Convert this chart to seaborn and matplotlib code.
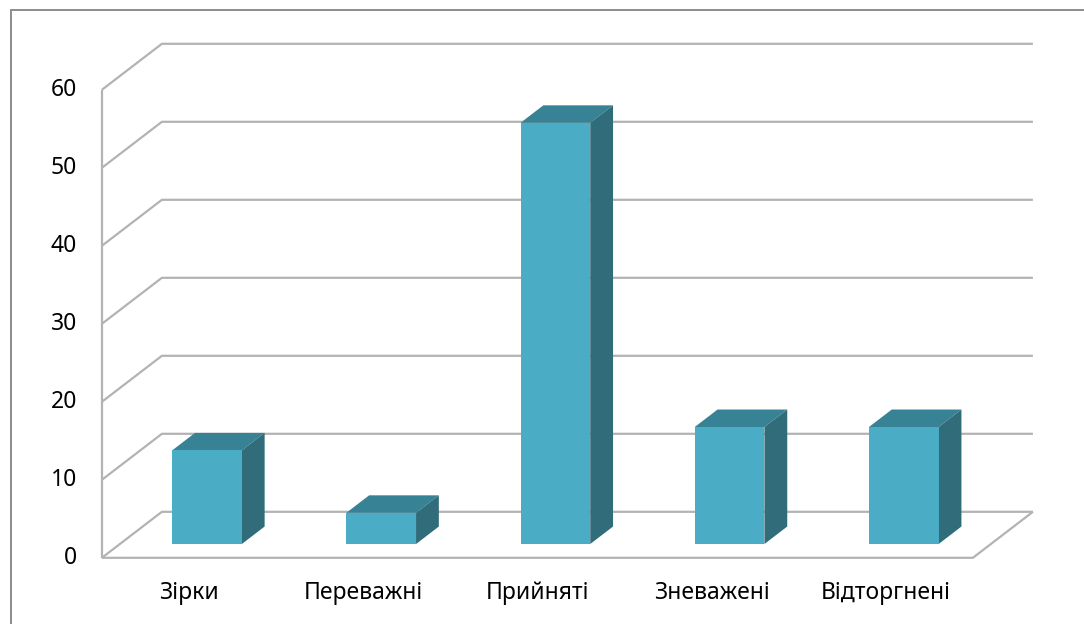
import matplotlib
matplotlib.use("Agg")
import matplotlib.pyplot as plt
from matplotlib.patches import Polygon
from matplotlib.lines import Line2D
import numpy as np
import pandas as pd
import seaborn as sns

# Sociometric status groups, share of pupils (%)
categories = ["Зірки", "Переважні", "Прийняті", "Зневажені", "Відторгнені"]
values = [12, 4, 54, 15, 15]
y_ticks = [0, 10, 20, 30, 40, 50, 60]

FRONT = "#4BACC6"
TOP = "#388296"
SIDE = "#306C79"
GRID = "#B3B3B3"
FRAME = "#8C8C8C"

sns.set_theme(style="white")
plt.rcParams["font.family"] = ["Noto Sans", "DejaVu Sans"]

W, H = 1084, 624
fig = plt.figure(figsize=(W / 100, H / 100), dpi=100)
ax = fig.add_axes([0, 0, 1, 1])

df = pd.DataFrame({"group": categories, "share": values})
sns.barplot(data=df, x="group", y="share", width=0.4, color=FRONT,
            saturation=1, ax=ax, zorder=3, linewidth=0)

# pixel scale of the bar plane
x0_px, slot_px = 207, 174.2
y0_px, unit_px = 544, 7.8
ax.set_xlim(-x0_px / slot_px, (W - x0_px) / slot_px)
ax.set_ylim(-(H - y0_px) / unit_px, y0_px / unit_px)
ax.axis("off")

# oblique depth projection: d = 0 front of floor, d = 1 back wall
DX = 60 / slot_px
DY = 46 / unit_px
BAR_D0, BAR_D1 = 0.30, 0.68
x_lo, x_hi = -0.5, len(categories) - 0.5


def proj(x, v, d):
    return x + (d - BAR_D0) * DX, v + (d - BAR_D0) * DY


def polyline(points, **kw):
    xs, ys = zip(*points)
    ax.plot(xs, ys, color=GRID, lw=1.6, solid_capstyle="butt", zorder=1, **kw)


# walls: gridlines wrap from left wall to back wall
for v in y_ticks:
    polyline([proj(x_lo, v, 0), proj(x_lo, v, 1), proj(x_hi, v, 1)])
# floor outline
polyline([proj(x_lo, 0, 0), proj(x_hi, 0, 0), proj(x_hi, 0, 1)])
# left wall front edge
polyline([proj(x_lo, 0, 0), proj(x_lo, y_ticks[-1], 0)])

# top and side faces of each bar
ddx = (BAR_D1 - BAR_D0) * DX
ddy = (BAR_D1 - BAR_D0) * DY
for p in ax.patches:
    bx, bw, bh = p.get_x(), p.get_width(), p.get_height()
    top = [(bx, bh), (bx + bw, bh), (bx + bw + ddx, bh + ddy), (bx + ddx, bh + ddy)]
    side = [(bx + bw, 0), (bx + bw, bh), (bx + bw + ddx, bh + ddy), (bx + bw + ddx, ddy)]
    ax.add_patch(Polygon(top, closed=True, facecolor=TOP, edgecolor="none", zorder=2.5))
    ax.add_patch(Polygon(side, closed=True, facecolor=SIDE, edgecolor="none", zorder=2.5))

# value axis labels on the front edge of the left wall
for v in y_ticks:
    x, y = proj(x_lo, v, 0)
    ax.text(x - 25 / slot_px, y, str(v), ha="right", va="center",
            fontsize=16.5, color="#000000")

# category labels under the floor
for i, name in enumerate(categories):
    x, _ = proj(i, 0, 0)
    ax.text(x, -6.3, name, ha="center", va="center", fontsize=16.5, color="#000000")

# chart frame (top and left edges)
fx = 10.5 / W
fy = 1 - 9.5 / H
fig.add_artist(Line2D([fx, fx], [0, fy], transform=fig.transFigure, color=FRAME, lw=1.4))
fig.add_artist(Line2D([fx, 1], [fy, fy], transform=fig.transFigure, color=FRAME, lw=1.4))

fig.savefig("out.png", dpi=100)
